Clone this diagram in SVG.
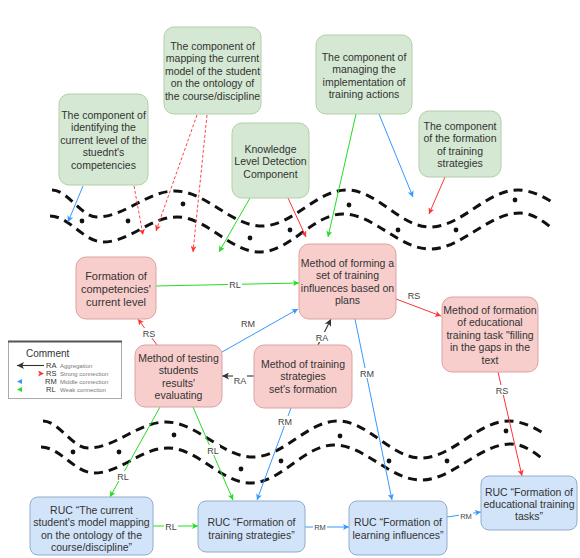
<svg xmlns="http://www.w3.org/2000/svg" width="580" height="558" viewBox="0 0 580 558">
<style>
text{font-family:"Liberation Sans",Arial,sans-serif;fill:#333}
.nt{font-size:10.5px;text-anchor:middle}
.g{fill:#d5e8d4;stroke:#b3d0a6;stroke-width:1}
.r{fill:#f8cecc;stroke:#dba3a1;stroke-width:1}
.b{fill:#d2e4f9;stroke:#93acca;stroke-width:1}
.wave{fill:none;stroke:#111;stroke-width:3;stroke-dasharray:9 6}
.dot{fill:#111}
.cg{stroke:#22dd22;stroke-width:1;fill:none;marker-end:url(#ag)}
.cb{stroke:#3399ff;stroke-width:1;fill:none;marker-end:url(#ab)}
.cr{stroke:#ff3333;stroke-width:1;fill:none;marker-end:url(#ar)}
.crd{stroke:#ff4444;stroke-width:1;fill:none;stroke-dasharray:3 2;marker-end:url(#ar)}
.ck{stroke:#333;stroke-width:1.1;fill:none;marker-end:url(#ak)}
.lb{font-size:9px;text-anchor:middle;fill:#444}
.lbs{font-size:7.5px;text-anchor:middle;fill:#444}
.bg{fill:#fff}
</style>
<defs>
<marker id="ag" viewBox="0 0 6 6" refX="6" refY="3" markerWidth="6" markerHeight="6" markerUnits="userSpaceOnUse" orient="auto"><path d="M0,0 L6,3 L0,6 L1.5,3 z" fill="#22dd22"/></marker>
<marker id="ab" viewBox="0 0 6 6" refX="6" refY="3" markerWidth="6" markerHeight="6" markerUnits="userSpaceOnUse" orient="auto"><path d="M0,0 L6,3 L0,6 L1.5,3 z" fill="#3399ff"/></marker>
<marker id="ar" viewBox="0 0 6 6" refX="6" refY="3" markerWidth="6" markerHeight="6" markerUnits="userSpaceOnUse" orient="auto"><path d="M0,0 L6,3 L0,6 L1.5,3 z" fill="#ff3333"/></marker>
<marker id="ak" viewBox="0 0 6 6" refX="6" refY="3" markerWidth="7" markerHeight="7" markerUnits="userSpaceOnUse" orient="auto"><path d="M0,0 L6,3 L0,6 L1.5,3 z" fill="#333"/></marker>
<linearGradient id="rsg" x1="0" y1="0" x2="1" y2="0"><stop offset="0" stop-color="#ff3333"/><stop offset="1" stop-color="#ffe5e5"/></linearGradient>
<linearGradient id="rmg" x1="0" y1="0" x2="1" y2="0"><stop offset="0" stop-color="#3399ff"/><stop offset="1" stop-color="#cfe4ff"/></linearGradient>
<linearGradient id="rlg" x1="0" y1="0" x2="1" y2="0"><stop offset="0" stop-color="#22dd22"/><stop offset="1" stop-color="#d5f5d5"/></linearGradient>
<g id="waves">
<path class="wave" d="M52,190 C68,190 81,217 97,217 C125,217 147,191 175,191 C206,191 231,226 262,226 C293,226 316,190 347,190 C377,190 400,227 430,227 C462,227 486,190 518,190 C531,190 545,197 555,204"/>
<path class="wave" d="M50,216 C69,216 84,242 103,242 C130,242 150,217 177,217 C207,217 230,252 260,252 C290,252 313,214 343,214 C374,214 399,249 430,249 C462,249 488,213 520,213 C532,213 543,221 553,229"/>
<circle class="dot" cx="82" cy="221" r="2.4"/>
<circle class="dot" cx="128" cy="221" r="2.4"/>
<circle class="dot" cx="183" cy="204" r="2.4"/>
<circle class="dot" cx="250" cy="238" r="2.4"/>
<circle class="dot" cx="290" cy="230" r="2.4"/>
<circle class="dot" cx="349" cy="205" r="2.4"/>
<circle class="dot" cx="398" cy="230" r="2.4"/>
<circle class="dot" cx="456" cy="230" r="2.4"/>
<circle class="dot" cx="515" cy="200" r="2.4"/>
</g>
</defs>
<rect width="580" height="558" fill="#fff"/>
<use href="#waves"/>
<use href="#waves" transform="translate(-9,231)"/>

<g id="connectors">
<line class="cb" x1="83" y1="186" x2="68" y2="222"/>
<line class="crd" x1="134" y1="186" x2="143" y2="235"/>
<line class="crd" x1="197" y1="115" x2="156" y2="231"/>
<line class="crd" x1="207" y1="115" x2="193" y2="252"/>
<line class="cg" x1="250" y1="198" x2="219" y2="252"/>
<line class="cr" x1="288" y1="198" x2="306" y2="237"/>
<line class="cg" x1="356" y1="114" x2="328" y2="237"/>
<line class="cb" x1="379" y1="114" x2="413" y2="197"/>
<line class="cr" x1="445" y1="177" x2="429" y2="214"/>

<line class="cg" x1="156" y1="286" x2="299" y2="283"/>
<rect class="bg" x="228" y="279" width="14" height="10"/>
<text class="lb" x="235" y="287.5">RL</text>

<line class="cr" x1="157" y1="345" x2="138" y2="319"/>
<rect class="bg" x="142" y="328" width="14" height="10"/>
<text class="lb" x="149" y="336.5">RS</text>

<line class="cb" x1="222" y1="352" x2="298" y2="309"/>
<text class="lb" x="248" y="327">RM</text>

<line class="ck" x1="254" y1="376" x2="222" y2="376"/>
<rect class="bg" x="233" y="375" width="14" height="10"/>
<text class="lb" x="240" y="383.5">RA</text>

<line class="ck" x1="318" y1="345" x2="331" y2="319"/>
<rect class="bg" x="315" y="332" width="14" height="10"/>
<text class="lb" x="322" y="340.5">RA</text>

<line class="cr" x1="396" y1="299" x2="441" y2="316"/>
<text class="lb" x="414" y="299">RS</text>

<line class="cb" x1="355" y1="319" x2="392" y2="500"/>
<rect class="bg" x="359" y="368" width="16" height="10"/>
<text class="lb" x="367" y="376.5">RM</text>

<line class="cr" x1="498" y1="372" x2="522" y2="476"/>
<rect class="bg" x="495" y="385" width="14" height="10"/>
<text class="lb" x="502" y="393.5">RS</text>

<line class="cg" x1="160" y1="407" x2="110" y2="497"/>
<rect class="bg" x="116" y="471" width="14" height="10"/>
<text class="lb" x="123" y="479.5">RL</text>

<line class="cg" x1="193" y1="407" x2="233" y2="500"/>
<rect class="bg" x="206" y="445" width="14" height="10"/>
<text class="lb" x="213" y="453.5">RL</text>

<line class="cb" x1="291" y1="408" x2="257" y2="500"/>
<rect class="bg" x="277" y="416" width="16" height="10"/>
<text class="lb" x="285" y="424.5">RM</text>

<line class="cg" x1="153" y1="526" x2="198" y2="526"/>
<rect class="bg" x="164" y="521" width="14" height="10"/>
<text class="lb" x="171" y="529.5">RL</text>

<line class="cb" x1="305" y1="527" x2="349" y2="527"/>
<rect class="bg" x="313" y="523" width="14" height="9"/>
<text class="lbs" x="320" y="530">RM</text>

<line class="cb" x1="447" y1="517" x2="481" y2="512"/>
<rect class="bg" x="459" y="511" width="14" height="9"/>
<text class="lbs" x="466" y="518.5">RM</text>
</g>

<g id="n1"><rect class="g" x="59" y="94" width="89" height="91" rx="10"/>
<text class="nt"><tspan x="103.5" y="118.5">The component of</tspan><tspan x="103.5" y="131">identifying the</tspan><tspan x="103.5" y="143.5">current level of the</tspan><tspan x="103.5" y="156">stuednt's</tspan><tspan x="103.5" y="168.5">competencies</tspan></text></g>

<g id="n2"><rect class="g" x="164" y="27" width="97" height="87" rx="10"/>
<text class="nt"><tspan x="212.5" y="49.5">The component of</tspan><tspan x="212.5" y="62">mapping the current</tspan><tspan x="212.5" y="74.5">model of the student</tspan><tspan x="212.5" y="87">on the ontology of</tspan><tspan x="212.5" y="99.5">the course/discipline</tspan></text></g>

<g id="n3"><rect class="g" x="232" y="123" width="77" height="75" rx="10"/>
<text class="nt"><tspan x="270.5" y="152.5">Knowledge</tspan><tspan x="270.5" y="165">Level Detection</tspan><tspan x="270.5" y="177.5">Component</tspan></text></g>

<g id="n4"><rect class="g" x="316" y="35" width="96" height="79" rx="10"/>
<text class="nt"><tspan x="364" y="60.5">The component of</tspan><tspan x="364" y="73">managing the</tspan><tspan x="364" y="85.5">implementation of</tspan><tspan x="364" y="98">training actions</tspan></text></g>

<g id="n5"><rect class="g" x="419" y="111" width="82" height="66" rx="10"/>
<text class="nt"><tspan x="460" y="129.5">The component</tspan><tspan x="460" y="142">of the formation</tspan><tspan x="460" y="154.5">of training</tspan><tspan x="460" y="167">strategies</tspan></text></g>

<g id="n6"><rect class="r" x="76" y="257" width="80" height="62" rx="10"/>
<text class="nt" style="font-size:11px"><tspan x="116" y="279.5">Formation of</tspan><tspan x="116" y="292.5">competencies'</tspan><tspan x="116" y="305.5">current level</tspan></text></g>

<g id="n7"><rect class="r" x="299" y="244" width="97" height="75" rx="10"/>
<text class="nt"><tspan x="347.5" y="266.5">Method of forming a</tspan><tspan x="347.5" y="279">set of training</tspan><tspan x="347.5" y="291.5">influences based on</tspan><tspan x="347.5" y="304">plans</tspan></text></g>

<g id="n8"><rect class="r" x="442" y="297" width="96" height="75" rx="10"/>
<text class="nt"><tspan x="490" y="313.5">Method of formation</tspan><tspan x="490" y="326">of educational</tspan><tspan x="490" y="338.5">training task "filling</tspan><tspan x="490" y="351">in the gaps in the</tspan><tspan x="490" y="363.5">text</tspan></text></g>

<g id="n9"><rect class="r" x="135" y="345" width="87" height="62" rx="10"/>
<text class="nt"><tspan x="178.5" y="361.5">Method of testing</tspan><tspan x="178.5" y="374">students</tspan><tspan x="178.5" y="386.5">results'</tspan><tspan x="178.5" y="399">evaluating</tspan></text></g>

<g id="n10"><rect class="r" x="254" y="345" width="98" height="63" rx="10"/>
<text class="nt"><tspan x="303" y="367.5">Method of training</tspan><tspan x="303" y="380">strategies</tspan><tspan x="303" y="392.5">set's formation</tspan></text></g>

<g id="n11"><rect class="b" x="30" y="497" width="123" height="58" rx="8"/>
<text class="nt"><tspan x="91.5" y="513.5">RUC “The current</tspan><tspan x="91.5" y="526">student's model mapping</tspan><tspan x="91.5" y="538.5">on the ontology of the</tspan><tspan x="91.5" y="551">course/discipline”</tspan></text></g>

<g id="n12"><rect class="b" x="198" y="501" width="107" height="51" rx="8"/>
<text class="nt"><tspan x="251.5" y="526">RUC “Formation of</tspan><tspan x="251.5" y="539">training strategies”</tspan></text></g>

<g id="n13"><rect class="b" x="349" y="501" width="98" height="54" rx="8"/>
<text class="nt"><tspan x="398" y="526">RUC “Formation of</tspan><tspan x="398" y="539">learning influences”</tspan></text></g>

<g id="n14"><rect class="b" x="481" y="476" width="96" height="54" rx="8"/>
<text class="nt"><tspan x="529" y="495.5">RUC “Formation of</tspan><tspan x="529" y="507.5">educational training</tspan><tspan x="529" y="520">tasks”</tspan></text></g>

<g id="legend">
<rect x="8.5" y="341.5" width="113" height="57" fill="#fff" stroke="#aaa" stroke-width="1"/>
<line x1="8" y1="341.5" x2="122" y2="341.5" stroke="#555" stroke-width="2"/>
<text x="26" y="357" style="font-size:10px">Comment</text>
<line x1="44" y1="365.5" x2="17" y2="365.5" class="ck"/>
<line x1="44" y1="373.5" x2="17" y2="373.5" stroke="url(#rsg)" stroke-width="1.2" marker-end="url(#ar)" transform="rotate(180 30.5 373.5)"/>
<line x1="17" y1="381.5" x2="44" y2="381.5" stroke="url(#rmg)" stroke-width="1.2"/>
<path d="M17,381.5 l5,-2.5 l0,5 z" fill="#3399ff"/>
<line x1="17" y1="389.5" x2="44" y2="389.5" stroke="url(#rlg)" stroke-width="1.2"/>
<path d="M17,389.5 l5,-2.5 l0,5 z" fill="#22dd22"/>
<text x="46" y="368" style="font-size:7.5px">RA</text>
<text x="46" y="376" style="font-size:7.5px">RS</text>
<text x="45" y="384" style="font-size:7.5px">RM</text>
<text x="46" y="392" style="font-size:7.5px">RL</text>
<text x="60" y="368" style="font-size:6px;fill:#777">Aggregation</text>
<text x="60" y="376" style="font-size:6px;fill:#777">Strong connection</text>
<text x="60" y="384" style="font-size:6px;fill:#777">Middle connection</text>
<text x="60" y="392" style="font-size:6px;fill:#777">Weak connection</text>
</g>
</svg>
